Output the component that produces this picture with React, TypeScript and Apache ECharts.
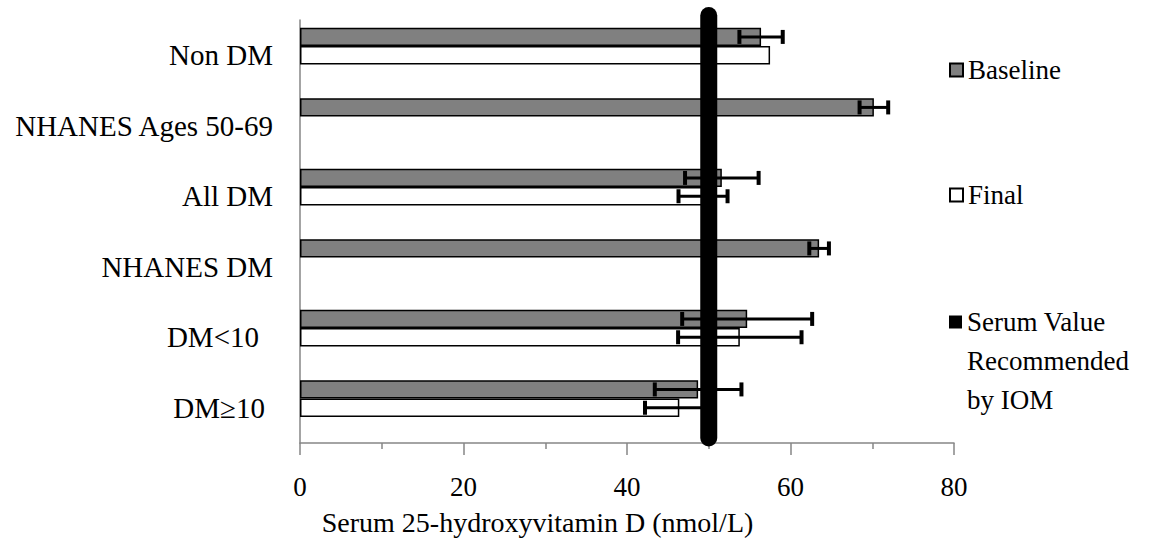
import React, { useEffect, useRef } from 'react';
import * as echarts from 'echarts';

const categories = ['Non DM', 'NHANES Ages 50-69', 'All DM', 'NHANES DM', 'DM<10', 'DM≥10'];
const baseline = [56.4, 70.2, 51.6, 63.5, 54.7, 48.7];
const baselineErr = [2.65, 1.75, 4.5, 1.2, 7.95, 5.3];
const finalVals: (number | null)[] = [57.5, null, 49.3, null, 53.8, 46.4];
const finalErr: (number | null)[] = [null, null, 3.0, null, 7.55, 4.2];
const iomValue = 50;
const xMin = 0;
const xMax = 80;
const xInterval = 20;
const seriesNames = ['Baseline', 'Final', 'Serum Value Recommended by IOM'];
const axisTitle = 'Serum 25-hydroxyvitamin D (nmol/L)';

const FONT = "'Liberation Serif', 'Times New Roman', serif";
const CAT_GAP = 0.22;
const N_SLOTS = 3;
const labelPad: Record<string, number> = { 'DM<10': 14, 'DM≥10': 8 };

function errRender(slot: number) {
  return (params: any, api: any) => {
    const cat = api.value(0);
    const val = api.value(1);
    const err = api.value(2);
    const band = api.size([0, 1])[1];
    const barW = (band * (1 - CAT_GAP)) / N_SLOTS;
    const c = api.coord([val, cat]);
    const y = c[1] - band / 2 + (band * CAT_GAP) / 2 + barW * (slot + 0.5);
    const x1 = api.coord([val - err, cat])[0];
    const x2 = api.coord([val + err, cat])[0];
    return {
      type: 'group',
      children: [
        { type: 'line', shape: { x1, y1: y, x2, y2: y }, style: { stroke: '#000', lineWidth: 3 } },
        { type: 'line', shape: { x1, y1: y - 7, x2: x1, y2: y + 7 }, style: { stroke: '#000', lineWidth: 4 } },
        { type: 'line', shape: { x1: x2, y1: y - 7, x2, y2: y + 7 }, style: { stroke: '#000', lineWidth: 4 } },
      ],
    };
  };
}

export default function App() {
  const ref = useRef<HTMLDivElement>(null);
  useEffect(() => {
    document.body.style.margin = '0';
    const chart = echarts.init(ref.current!, undefined, { renderer: 'svg' });
    const baseErrData = baseline.map((v, i) => [i, v, baselineErr[i]]);
    const finalErrData = finalVals
      .map((v, i) => [i, v, finalErr[i]])
      .filter((d) => d[1] != null && d[2] != null);
    const legendCommon = {
      orient: 'vertical',
      left: 944,
      itemWidth: 13,
      itemHeight: 13,
      itemGap: 0,
      icon: 'rect',
      selectedMode: false,
      textStyle: { fontFamily: FONT, fontSize: 27, color: '#000', lineHeight: 39 },
    };
    const rich: Record<string, any> = {};
    Object.keys(labelPad).forEach((k, idx) => {
      rich['p' + idx] = { fontFamily: FONT, fontSize: 29, color: '#000', padding: [0, labelPad[k], 0, 0] };
    });
    chart.setOption({
      animation: false,
      backgroundColor: '#fff',
      grid: { left: 300, right: 196, top: 20, bottom: 99 },
      legend: [
        { ...legendCommon, top: 45.5, data: [{ name: seriesNames[0] }] },
        { ...legendCommon, top: 170.5, data: [{ name: seriesNames[1] }] },
        {
          ...legendCommon,
          top: 219.5,
          data: [{ name: seriesNames[2], itemStyle: { color: '#000', borderWidth: 0 } }],
          formatter: () => '\n\nSerum Value\nRecommended\nby IOM',
        },
      ],
      xAxis: {
        type: 'value',
        min: xMin,
        max: xMax,
        interval: xInterval,
        splitLine: { show: false },
        axisLine: { show: true, lineStyle: { color: '#868686', width: 1.5 } },
        axisTick: { show: true, length: 12, lineStyle: { color: '#868686', width: 1.5 } },
        minorTick: { show: true, splitNumber: 2, length: 6, lineStyle: { color: '#868686', width: 1.5 } },
        axisLabel: { margin: 30, fontFamily: FONT, fontSize: 27, color: '#000' },
        name: axisTitle,
        nameLocation: 'middle',
        nameGap: 65,
        nameTextStyle: { fontFamily: FONT, fontSize: 28, color: '#000', padding: [0, 179, 0, 0] },
      },
      yAxis: {
        type: 'category',
        data: categories,
        inverse: true,
        axisLine: { show: true, lineStyle: { color: '#868686', width: 1.5 } },
        axisTick: { show: false },
        splitLine: { show: false },
        axisLabel: {
          margin: 27,
          fontFamily: FONT,
          fontSize: 29,
          color: '#000',
          formatter: (v: string) => {
            const idx = Object.keys(labelPad).indexOf(v);
            return idx >= 0 ? `{p${idx}|${v}}` : v;
          },
          rich,
        },
      },
      series: [
        {
          name: seriesNames[0],
          type: 'bar',
          data: baseline,
          barGap: '0%',
          barCategoryGap: CAT_GAP * 100 + '%',
          itemStyle: { color: '#808080', borderColor: '#000', borderWidth: 1.5 },
          z: 2,
        },
        {
          name: seriesNames[1],
          type: 'bar',
          data: finalVals,
          itemStyle: { color: '#fff', borderColor: '#000', borderWidth: 1.5 },
          z: 2,
        },
        {
          name: '_slot',
          type: 'bar',
          data: categories.map(() => null),
          z: 2,
        },
        {
          name: 'baselineErr',
          type: 'custom',
          data: baseErrData,
          encode: { x: 1, y: 0 },
          renderItem: errRender(0),
          clip: false,
          z: 3,
        },
        {
          name: 'finalErr',
          type: 'custom',
          data: finalErrData,
          encode: { x: 1, y: 0 },
          renderItem: errRender(1),
          clip: false,
          z: 3,
        },
        {
          name: seriesNames[2],
          type: 'custom',
          data: [[iomValue, 0]],
          encode: { x: 0, y: 1 },
          itemStyle: { color: '#000' },
          clip: false,
          z: 4,
          renderItem: (params: any, api: any) => {
            const x = api.coord([api.value(0), 0])[0];
            const cs = params.coordSys;
            return {
              type: 'line',
              shape: { x1: x, y1: cs.y - 4.5, x2: x, y2: cs.y + cs.height - 5 },
              style: { stroke: '#000', lineWidth: 17, lineCap: 'round' },
            };
          },
        },
      ],
    });
    return () => chart.dispose();
  }, []);
  return <div ref={ref} style={{ width: 1150, height: 542 }} />;
}
